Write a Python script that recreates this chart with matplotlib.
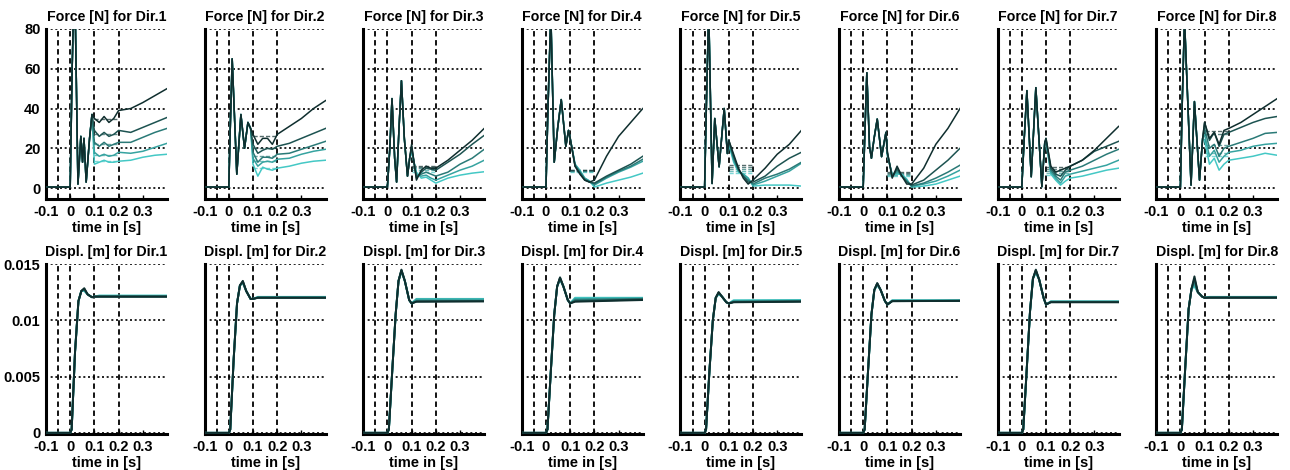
"""Force and displacement step responses for 8 push directions (5 runs each)."""
import matplotlib
matplotlib.use("Agg")
import matplotlib.pyplot as plt

plt.rcParams["font.family"] = ["Liberation Sans", "DejaVu Sans"]
plt.rcParams["font.weight"] = "bold"

DIRS = [1, 2, 3, 4, 5, 6, 7, 8]
LINE_COLORS = ["#0f2e2e", "#1d5351", "#2a7a77", "#36a3a0", "#44c8c5"]  # run 1 (dark) .. run 5 (light)

# --- force: shared transient (t < 0.1 s) -------------------------------------
FORCE_T = [
    [-0.1, 0.0, 0.008, 0.018, 0.032, 0.044, 0.051, 0.057, 0.066, 0.08, 0.09],
    [-0.1, 0.0, 0.006, 0.014, 0.033, 0.05, 0.065, 0.079, 0.09],
    [-0.1, 0.0, 0.01, 0.019, 0.03, 0.038, 0.048, 0.058, 0.07, 0.083, 0.092],
    [-0.1, 0.0, 0.008, 0.02, 0.034, 0.048, 0.063, 0.082, 0.093],
    [-0.1, 0.0, 0.008, 0.017, 0.031, 0.042, 0.06, 0.081, 0.094],
    [-0.1, 0.0, 0.007, 0.015, 0.026, 0.034, 0.045, 0.058, 0.076, 0.094],
    [-0.1, 0.0, 0.01, 0.021, 0.039, 0.058, 0.083, 0.095],
    [-0.1, 0.0, 0.008, 0.017, 0.044, 0.058, 0.079, 0.092],
]
FORCE_V = [
    [0.5, 0.5, 60, 110, 2, 26, 13, 25, 3, 25, 37],
    [0.5, 0.5, 30, 65, 7, 37, 20, 33, 30],
    [0.5, 0.5, 20, 45, 15, 3, 30, 54, 25, 6, 15],
    [0.5, 0.5, 40, 88, 13, 30, 44.5, 21, 29],
    [0.5, 0.5, 45, 90, 2.3, 35, 10.7, 40, 17.4],
    [0.5, 0.5, 28, 58, 21, 15, 25, 34.7, 15.8, 28],
    [0.5, 0.5, 25, 49, 5.7, 50.5, 0.7, 23],
    [0.5, 0.5, 45, 85, 1.5, 43.5, 4, 25],
]

# --- force: per-run values after 0.1 s ---------------------------------------
POST_T = [0.1, 0.12, 0.14, 0.16, 0.18, 0.2, 0.25, 0.3, 0.35, 0.4]
FORCE_POST = [
    [[35, 33, 36, 33, 35, 39, 40, 43, 46.5, 50],
     [29, 26, 28, 26, 27, 29, 28, 30.5, 33, 35.5],
     [23, 21, 23, 21, 22, 23, 23, 25.5, 28, 30],
     [18, 16, 17, 16, 16.5, 18, 17.5, 18.5, 20.5, 22.5],
     [12, 13, 14, 13, 13, 13.5, 14, 15.5, 16.5, 17]],
    [[27, 22, 25, 25, 22, 27, 31, 35, 40, 44],
     [22, 17.5, 19, 20, 19.5, 21, 22.5, 25, 27.5, 30],
     [18, 13, 15.5, 15.5, 15, 17, 17.5, 19.5, 21.5, 23.5],
     [15, 11, 13, 13.5, 13, 14.5, 15, 17, 18.5, 19.5],
     [12, 6, 10.5, 9.5, 9, 10, 11, 12.5, 13.5, 14]],
    [[22, 4, 9, 11, 10, 10, 14, 19, 24, 30],
     [21, 5, 8, 10, 9.5, 9, 13, 17, 22, 26.5],
     [20, 6, 7, 8, 7, 6, 8, 12, 15, 19.5],
     [19, 7, 6, 6.5, 5, 4, 6.5, 9, 11, 14],
     [18, 8, 5, 5.5, 4, 2.5, 5, 6.5, 7.5, 8.2]],
    [[25, 11, 7, 4, 3, 4, 16, 26, 33, 40],
     [25, 11, 7.5, 4, 3, 2.5, 6, 9, 12, 16],
     [25, 11.5, 8, 4.5, 3, 2, 5.5, 8.5, 11, 14.5],
     [25, 12, 8.5, 5, 3.5, 1.5, 5, 8, 10.5, 13.5],
     [25, 12, 9, 5, 3.5, 0.5, 2.5, 4, 5.5, 7.5]],
    [[24, 17, 10, 5, 2, 4, 10, 17, 22, 29],
     [24, 16, 9.5, 6, 3, 3, 6, 11, 15, 18],
     [23, 15, 9, 6, 4, 2, 5, 7, 9.5, 13],
     [23, 14, 8.5, 7, 5, 1.5, 3.5, 6, 8.5, 12.5],
     [22, 13, 8, 7, 5, 1, 1.5, 1.5, 1.5, 1]],
    [[18, 5, 11, 6, 2, 2, 10, 22, 30, 40],
     [18, 5.5, 10, 6, 3, 1.5, 4, 9, 14, 20],
     [17, 6, 9, 6, 3.5, 1, 2.5, 5, 8, 11.5],
     [17, 6.5, 8, 6.5, 4, 1, 2, 3.5, 6, 9],
     [16, 7, 7, 7, 4.5, 0.5, 1, 2, 4, 6]],
    [[25, 11, 8, 9, 10, 11, 14, 19, 25, 31],
     [25, 10, 7, 6, 9, 11, 14, 18.5, 21, 23.5],
     [24, 9, 6, 4, 8, 9, 11, 14, 17, 19.5],
     [24, 8, 5, 2.5, 6, 7, 8.5, 10, 11.5, 14],
     [23, 7, 4, 1.5, 3.5, 5, 6, 7.5, 9, 10]],
    [[33, 25, 28, 22, 29, 30, 33, 37, 41, 45],
     [33, 24, 28, 21, 27, 28, 30.5, 33, 35, 36],
     [30, 20, 22, 16, 20, 21, 23, 25, 27.5, 28],
     [27, 16, 19, 13, 16, 18, 19, 21, 22, 22.5],
     [24, 12, 15, 9, 12, 14, 15, 16, 17.5, 16.5]],
]
# mean force level per run in the 0.1-0.2 s window (dashed)
FORCE_MEAN = [
    [34.5, 27, 22, 16.5, 13.5],
    [26, 20, 16, 13.5, 10],
    [11, 10.5, 10, 9, 8],
    [9, 9, 8.5, 8.5, 8],
    [11.5, 10.5, 9.5, 8.5, 7.5],
    [8, 7.5, 7, 6.5, 6],
    [10.5, 9.5, 8.5, 7.5, 6.5],
    [28.5, 27, 21.5, 17.5, 16],
]

# --- displacement -----------------------------------------------------------
DISP_T = [-0.1, 0.0, 0.006, 0.02, 0.034, 0.046, 0.058, 0.072, 0.09, 0.1]
DISP_V = [
    [0, 0, 0.0003, 0.0072, 0.0117, 0.0126, 0.0128, 0.0123, 0.01205, 0.0121],
    [0, 0, 0.0003, 0.0065, 0.0115, 0.0131, 0.0135, 0.0126, 0.0119, 0.0119],
    [0, 0, 0.0003, 0.0055, 0.0105, 0.0135, 0.0145, 0.0135, 0.0118, 0.0115],
    [0, 0, 0.0003, 0.0055, 0.0105, 0.0130, 0.0138, 0.0130, 0.0118, 0.0115],
    [0, 0, 0.0003, 0.0055, 0.0100, 0.0120, 0.0125, 0.0121, 0.0116, 0.0115],
    [0, 0, 0.0003, 0.0055, 0.0105, 0.0127, 0.0133, 0.0127, 0.0117, 0.0114],
    [0, 0, 0.0003, 0.0055, 0.0108, 0.0137, 0.0145, 0.0136, 0.0120, 0.0114],
    [0, 0, 0.0003, 0.0058, 0.0110, 0.0128, 0.0139, 0.0125, 0.0121, 0.0120],
]
DISP_PEAK = [  # per run, replaces the value at t = 0.058
    [0.01285, 0.0128, 0.01275, 0.0127, 0.0126],
    [0.0135, 0.01345, 0.0134, 0.01335, 0.0133],
    [0.0145, 0.01445, 0.0144, 0.0144, 0.0143],
    [0.0138, 0.0138, 0.0137, 0.0137, 0.0136],
    [0.0125, 0.01248, 0.01245, 0.0124, 0.0123],
    [0.0133, 0.01328, 0.01325, 0.0132, 0.0131],
    [0.0145, 0.01445, 0.0144, 0.0143, 0.0142],
    [0.0139, 0.0137, 0.0135, 0.0132, 0.0130],
]
DISP_END_T = [0.12, 0.4]
DISP_END = [
    [[0.0121, 0.0121], [0.0121, 0.0121], [0.01212, 0.01212], [0.01215, 0.01215], [0.0122, 0.0122]],
    [[0.0120, 0.0120], [0.0120, 0.0120], [0.01202, 0.01202], [0.01205, 0.01205], [0.01208, 0.01208]],
    [[0.01165, 0.01168], [0.01168, 0.0117], [0.0117, 0.01172], [0.01185, 0.01185], [0.0119, 0.0119]],
    [[0.01165, 0.0118], [0.0117, 0.01185], [0.0118, 0.0119], [0.0119, 0.01195], [0.0120, 0.0120]],
    [[0.0116, 0.01165], [0.01162, 0.01168], [0.01165, 0.0117], [0.01172, 0.01175], [0.01178, 0.0118]],
    [[0.0117, 0.01172], [0.0117, 0.01173], [0.01172, 0.01174], [0.01175, 0.01176], [0.01178, 0.01178]],
    [[0.0116, 0.0116], [0.01162, 0.01162], [0.01164, 0.01164], [0.01166, 0.01166], [0.01168, 0.01168]],
    [[0.0120, 0.0120], [0.01202, 0.01202], [0.01204, 0.01204], [0.01206, 0.01206], [0.01208, 0.01208]],
]

X_TICKS = [-0.1, 0.0, 0.1, 0.2, 0.3]
X_TICKLABELS = ["-0.1", "0", "0.1", "0.2", "0.3"]
V_MARKS = [-0.05, 0.0, 0.1, 0.2]
F_TICKS = [0, 20, 40, 60, 80]
F_TICKLABELS = ["0", "20", "40", "60", "80"]
D_TICKS = [0, 0.005, 0.01, 0.015]
D_TICKLABELS = ["0", "0.005", "0.01", "0.015"]

FS_TICK = 10.5
FS_TITLE = 10.2


def style_axes(ax, yticks, ylabels, ylim, show_y):
    ax.set_xlim(-0.1, 0.4)
    ax.set_ylim(*ylim)
    for y in yticks:
        ax.axhline(y, color="black", linestyle=(0, (1.2, 1.6)), linewidth=1.2, zorder=1)
    for x in V_MARKS:
        ax.axvline(x, color="black", linestyle=(0, (3, 2)), linewidth=1.3, zorder=1)
    ax.spines["top"].set_visible(False)
    ax.spines["right"].set_visible(False)
    ax.spines["left"].set_linewidth(2.2)
    ax.spines["bottom"].set_linewidth(2.2)
    ax.set_xticks(X_TICKS)
    ax.set_xticklabels(X_TICKLABELS, fontsize=FS_TICK, fontweight="bold")
    ax.set_yticks(yticks)
    if show_y:
        ax.set_yticklabels(ylabels, fontsize=FS_TICK, fontweight="bold")
    else:
        ax.set_yticklabels([])
    ax.tick_params(axis="x", direction="in", length=3, width=1, pad=4)
    ax.tick_params(axis="y", length=0, pad=4)
    ax.set_xlabel("time in [s]", fontsize=FS_TICK, fontweight="bold", labelpad=2)


def main():
    fig = plt.figure(figsize=(12.9, 4.7), dpi=100)
    left0, width, step = 46 / 1290, 121 / 1290, 158.6 / 1290
    height = 170 / 470
    bottoms = [1 - 199 / 470, 1 - 434 / 470]

    for d in range(len(DIRS)):
        x0 = left0 + d * step
        ax_f = fig.add_axes([x0, bottoms[0], width, height])
        ax_d = fig.add_axes([x0, bottoms[1], width, height])

        # force: light runs first so the dark one ends on top
        for i in reversed(range(len(LINE_COLORS))):
            t = FORCE_T[d] + POST_T
            v = FORCE_V[d] + FORCE_POST[d][i]
            ax_f.plot(t, v, color=LINE_COLORS[i], linewidth=1.1, zorder=3)
            ax_f.plot([0.1, 0.2], [FORCE_MEAN[d][i]] * 2, color=LINE_COLORS[i],
                      linestyle=(0, (3, 1.5)), linewidth=1.0, alpha=0.7, zorder=2)
        style_axes(ax_f, F_TICKS, F_TICKLABELS, (-5.5, 80), d == 0)
        ax_f.set_title(f"Force [N] for Dir.{DIRS[d]}", fontsize=FS_TITLE, fontweight="bold", pad=6)

        for i in reversed(range(len(LINE_COLORS))):
            v = list(DISP_V[d])
            v[6] = DISP_PEAK[d][i]
            ax_d.plot(DISP_T + DISP_END_T, v + DISP_END[d][i],
                      color=LINE_COLORS[i], linewidth=1.4, zorder=3)
        style_axes(ax_d, D_TICKS, D_TICKLABELS, (-0.0001, 0.015), d == 0)
        ax_d.set_title(f"Displ. [m] for Dir.{DIRS[d]}", fontsize=FS_TITLE, fontweight="bold", pad=6)

    fig.savefig("out.png", dpi=100)


if __name__ == "__main__":
    main()
